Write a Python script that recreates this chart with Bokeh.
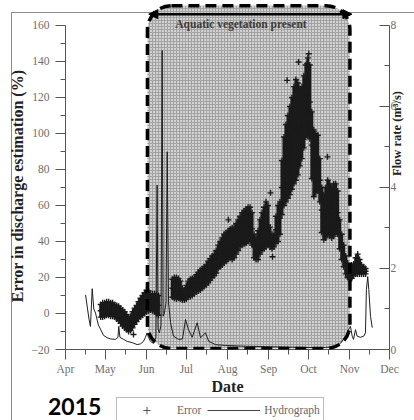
import math
from bokeh.plotting import figure
from bokeh.layouts import column, row
from bokeh.models import (Range1d, LinearAxis, FixedTicker, BoxAnnotation, Arrow, NormalHead,
                          Label, Legend, LegendItem, ColumnDataSource, Div)
from bokeh.embed import file_html
from bokeh.resources import INLINE

# ---------------- data (x = days since 1 April 2015) ----------------
month_labels = ["Apr", "May", "Jun", "Jul", "Aug", "Sep", "Oct", "Nov", "Dec"]
month_start_day = [0, 30, 61, 91, 122, 153, 183, 214, 244]
mid_month_day = [15, 45, 76, 106, 137, 168, 198, 229]
err_ticks = [-20, 0, 20, 40, 60, 80, 100, 120, 140, 160]
err_minor = [-10, 10, 30, 50, 70, 90, 110, 130, 150]
flow_ticks = [0, 2, 4, 6, 8]
flow_minor = [1, 3, 5, 7]

veg_start_day = 61.7   # aquatic vegetation present (start)
veg_end_day = 214.2    # aquatic vegetation present (end)

err_day = [26.5, 28, 29.5, 31, 32.5, 34, 35.5, 37, 38.5, 40, 41.5, 43, 44.5, 46, 47.5, 49, 50.5, 52,
           53.5, 55, 56.5, 58, 59.5, 61, 62.5, 64, 65.5, 67, 68.5, 70,
           80.5, 82, 83.5, 85, 86.5, 88, 89.5, 91, 92.5, 94, 95.5, 97, 98.5, 100, 101.5, 103, 104.5,
           106, 107.5, 109, 110.5, 112, 113.5, 115, 116.5, 118, 119.5, 121, 122.5, 124, 125.5, 127,
           128.5, 130, 131.5, 133, 134.5, 136, 137.5, 139, 140.5, 142, 143.5, 145, 146.5, 148, 149.5,
           151, 152.5, 154, 155.5, 157, 158.5, 160, 161.5, 163, 164.5, 166, 167.5, 169, 170.5, 172,
           173.5, 175, 176.5, 178, 179.5, 181, 182.5, 184, 185.5, 187, 188.5, 190, 191.5, 193, 194.5,
           196, 197.5, 199, 200.5, 202, 203.5, 205, 206.5, 208, 209.5, 211, 212.5, 214, 215.5, 217,
           218.5, 220, 221.5, 223, 224.5, 226]
err_lo = [-2, -2, -1.5, -1, -1, -1.5, -1.5, -2, -3, -4, -5.5, -7, -8, -9, -10, -9.5, -8, -6,
          -4.5, -3, -2, -1, 0, 1, 1.5, 2, 1.5, 1, 0, -1,
          9, 8.5, 8, 8.5, 8, 7.5, 7.5, 8, 9, 9.5, 10, 11, 12, 12.5, 13, 14, 15,
          16, 17, 18.5, 20, 21, 22.5, 25, 26, 27, 28, 29, 30, 31, 30, 31,
          33, 35, 37, 38, 38.5, 39, 40, 40, 38, 31, 30, 30, 33, 35, 36,
          37, 38, 37, 36, 37, 39, 40, 44, 55, 60, 62, 64, 66, 69, 72,
          74, 77, 82, 86, 92, 98, 99, 97, 75, 65, 67, 68, 62, 45, 41,
          42, 44, 43, 42, 43, 45, 44, 36, 30, 26, 22, 20, 19, 19.5, 21,
          22, 22, 22, 22, 22, 22]
err_hi = [5, 6, 6, 6.5, 6.5, 6, 6, 5, 4.5, 4, 3, 2, 1, -0.5, -2, -1.5, 1, 3,
          4.5, 6.5, 8.5, 10, 11.5, 13, 12.5, 11, 11, 11, 10.5, 10,
          19, 20, 20, 19.5, 18, 14, 13, 15.5, 18, 19, 19.5, 20, 21.5, 23, 24, 25, 26,
          27, 29, 30.5, 32, 33, 35, 38, 40, 42, 44, 45, 46, 47, 47.5, 48,
          50, 52, 54, 56, 57, 58, 59, 59, 56, 44, 42, 46, 52, 56, 59,
          62, 60, 48, 44, 44, 54, 60, 62, 85, 98, 105, 110, 115, 120, 126,
          130, 128, 125, 126, 132, 138, 142, 138, 112, 102, 100, 99, 86, 70, 66,
          70, 74, 72, 70, 72, 72, 68, 52, 44, 38, 32, 28, 26, 27, 27.5,
          31, 33, 30, 27, 26, 25]
err_out_day = [51.2, 122.7, 154.4, 155.9, 166.9, 175.5, 182.0, 183.2, 197.3]
err_out_val = [-11.7, 52, 67, 31.5, 129.5, 139.7, 138.8, 144.3, 87]

hydro_day = [15.1, 16.6, 17.7, 18.8, 20.1, 21.3, 22.6, 24.8, 26.4, 28.6, 31.4, 33.9, 37.7, 39.5,
             40.1, 41.0, 43.7, 46.5, 50.2, 54.0, 56.5, 58.7, 60.2, 61.4, 62.5, 64.0, 66.3, 68.1,
             69.0, 69.7, 70.7, 71.9, 72.8, 73.5, 74.5, 75.7, 76.6, 77.6, 79.1, 81.3, 85.1, 88.1,
             90.4, 92.6, 95.4, 99.2, 101.7, 105.4, 107.9, 113.0, 120.5, 135.5, 150.6, 165.7,
             180.7, 195.8, 204.6, 207.0, 209.3, 211.6, 213.1, 214.6, 215.9, 216.9, 218.4, 219.6,
             222.1, 224.6, 225.9, 226.6, 227.6, 228.4, 229.7, 231.0]
hydro_flow = [1.35, 1.0, 0.75, 0.57, 1.5, 1.0, 0.9, 0.6, 0.5, 0.35, 0.29, 0.26, 0.25, 0.3,
              0.57, 0.3, 0.25, 0.2, 0.17, 0.12, 0.14, 0.2, 0.3, 0.41, 0.3, 0.2, 0.15, 0.3,
              4.06, 0.5, 0.41, 0.6, 7.38, 0.82, 0.9, 1.15, 4.88, 1.15, 0.66, 0.33, 0.25, 0.26,
              0.74, 0.49, 0.3, 0.66, 0.29, 0.41, 0.2, 0.12, 0.1, 0.08, 0.07, 0.06,
              0.05, 0.05, 0.08, 0.15, 0.25, 0.35, 0.49, 0.57, 0.33, 0.25, 0.49, 0.33,
              0.3, 0.33, 0.41, 1.48, 1.8, 1.48, 0.82, 0.54]

year_label = "2015"

# ---------------- layout helpers ----------------
W = 414
MAIN_H = 397
LEG_H = 420 - MAIN_H
YEAR_W = 115
FL, FR, FT, FB = 65, 389, 2, 350
X0, X1 = 0, 244
Y0 = -20
PX_PER_ERR = 325 / 180.0
Y1 = Y0 + (FB - FT) / PX_PER_ERR
FLOW1 = (FB - FT) / (325 / 8.0)


def yd(py):
    return Y0 + (FB - py) / PX_PER_ERR


def xd(px):
    return X0 + (px - FL) * (X1 - X0) / (FR - FL)


SERIF = "Liberation Serif"
AX = "#555555"
BORDER = "#8c8c8c"
NB = "\u00a0"

p = figure(width=W, height=MAIN_H, output_backend="svg", toolbar_location=None,
           x_range=Range1d(X0, X1), y_range=Range1d(Y0, Y1),
           min_border_left=FL, min_border_right=W - FR, min_border_top=FT,
           min_border_bottom=MAIN_H - FB,
           background_fill_color=None, border_fill_color=None, outline_line_color=None)
p.xgrid.visible = False
p.ygrid.visible = False
p.extra_y_ranges = {"flow": Range1d(0, FLOW1)}
p.styles = {
    "background-image": f"linear-gradient({BORDER}, {BORDER}), linear-gradient({BORDER}, {BORDER})",
    "background-size": f"1px {MAIN_H}px, {W}px 1px",
    "background-position": "11px 12px, 11px 12px",
    "background-repeat": "no-repeat",
}

xa = p.xaxis[0]
xa.ticker = FixedTicker(ticks=month_start_day, minor_ticks=mid_month_day)
xa.major_label_overrides = {d: m for d, m in zip(month_start_day, month_labels)}
xa.major_tick_out = 10
xa.major_tick_in = 0
xa.minor_tick_out = 5
xa.minor_tick_in = 0
xa.major_label_standoff = 3
xa.axis_label = "Date"
xa.axis_label_standoff = 0
xa.axis_label_text_font_size = "16px"

ya = p.yaxis[0]
ya.ticker = FixedTicker(ticks=err_ticks, minor_ticks=err_minor)
ya.bounds = (Y0, 160)
ya.major_tick_out = 10
ya.major_tick_in = 0
ya.minor_tick_out = 5
ya.minor_tick_in = 0
ya.major_label_standoff = 6
ya.axis_label = "Error in discharge estimation (%)" + NB * 5
ya.axis_label_standoff = 3
ya.axis_label_text_font_size = "16px"

ra = LinearAxis(y_range_name="flow", ticker=FixedTicker(ticks=flow_ticks, minor_ticks=flow_minor),
                bounds=(0, 8))
ra.major_tick_in = 10
ra.major_tick_out = 0
ra.minor_tick_in = 5
ra.minor_tick_out = 0
ra.major_label_standoff = 1
ra.axis_label = "Flow rate (m³/s)" + NB * 3
ra.axis_label_standoff = -2
ra.axis_label_text_font_size = "12.5px"
ra.axis_label_text_line_height = 0.9
ra.axis_label_orientation = math.pi / 2
p.add_layout(ra, "right")

for ax in (xa, ya, ra):
    ax.axis_line_color = AX
    ax.major_tick_line_color = AX
    ax.minor_tick_line_color = AX
    ax.major_label_text_font = SERIF
    ax.major_label_text_font_size = "11.5px"
    ax.major_label_text_color = "#6e6e6e"
    ax.axis_label_text_font = SERIF
    ax.axis_label_text_font_style = "bold"
    ax.axis_label_text_color = "#222222"

# shaded vegetation period (underlay) and its dashed rounded outline (on top)
shade = BoxAnnotation(left=veg_start_day, right=veg_end_day, bottom=-19.5, top=171,
                      fill_color="#d2d2d2", fill_alpha=1.0, line_color=None,
                      hatch_pattern="+", hatch_color="#a2a2a2", hatch_scale=3, hatch_weight=1,
                      border_radius=24, level="underlay")
p.add_layout(shade)

# hydrograph
hydro = p.line(hydro_day, hydro_flow, y_range_name="flow", line_color="#1e1e1e", line_width=1)

# error series
esrc = ColumnDataSource(dict(day=err_day, lo=err_lo, hi=err_hi,
                             mid=[(a + b) / 2 for a, b in zip(err_lo, err_hi)]))
p.segment(x0="day", y0="lo", x1="day", y1="hi", source=esrc, line_color="#1a1a1a", line_width=3)
for col in ("lo", "hi", "mid"):
    p.scatter(x="day", y=col, source=esrc, marker="cross", size=6, line_color="#1a1a1a",
              line_width=1.4)
p.scatter(err_out_day, err_out_val, marker="cross", size=6, line_color="#1a1a1a", line_width=1.4)

outline = BoxAnnotation(left=veg_start_day, right=veg_end_day, bottom=-19.5, top=171,
                        fill_color=None, fill_alpha=0, line_color="black", line_alpha=1.0,
                        line_width=3.5, line_dash="11 6", border_radius=24, level="overlay")
p.add_layout(outline)

arrow = Arrow(start=NormalHead(size=9, fill_color="black", line_color="black"),
              end=NormalHead(size=9, fill_color="black", line_color="black"),
              x_start=veg_start_day + 1.0, y_start=yd(13.7),
              x_end=veg_end_day + 1.5, y_end=yd(13.7),
              line_color="black", line_width=2.5)
p.add_layout(arrow)

p.add_layout(Label(x=xd(240.5), y=yd(24), text="Aquatic vegetation present", text_align="center",
                   text_baseline="middle", text_font=SERIF, text_font_style="bold",
                   text_font_size="11.5px", text_color="#3c3c3c"))

# ---------------- bottom strip: year (left) + legend (right) ----------------
year_div = Div(text=f'<span style="position:absolute; left:48px; top:0px; font-family:Lato; '
                    f'font-weight:bold; font-size:23px; line-height:18px; color:#000;">'
                    f'{year_label}</span>',
               width=YEAR_W, height=LEG_H, margin=0,
               styles={"background-image": f"linear-gradient({BORDER}, {BORDER})",
                       "background-size": f"1px {LEG_H}px",
                       "background-position": "11px 0px",
                       "background-repeat": "no-repeat",
                       "position": "relative"})

LW = W - YEAR_W
lf = figure(width=LW, height=LEG_H, output_backend="svg", toolbar_location=None,
            x_range=Range1d(1000, 1000 + LW), y_range=Range1d(1000, 1000 + LEG_H),
            x_axis_type=None, y_axis_type=None, min_border=0, margin=0,
            background_fill_color=None, border_fill_color=None, outline_line_color=None)
lf.xgrid.visible = False
lf.ygrid.visible = False
# legend glyphs: the same series, drawn out of this strip's view
leg_cross = lf.scatter(err_day, err_lo, marker="cross", size=10, line_color="#555555", line_width=1)
leg_line = lf.line(hydro_day, hydro_flow, line_color="#444444", line_width=1)
legend = Legend(items=[LegendItem(label="Error", renderers=[leg_cross]),
                       LegendItem(label="Hydrograph", renderers=[leg_line])],
                orientation="horizontal", location=(1, -2.5), margin=0,
                glyph_width=53, glyph_height=18, label_height=16, label_standoff=4, spacing=6,
                padding=3, border_line_color="#7a7a7a", border_line_width=1,
                background_fill_color="white", background_fill_alpha=1.0,
                label_text_font=SERIF, label_text_font_size="11.5px", label_text_color="#666666")
lf.add_layout(legend, "center")

layout = column(p, row(year_div, lf, spacing=0, margin=0), spacing=0)
open("out.html", "w").write(file_html(layout, INLINE))
